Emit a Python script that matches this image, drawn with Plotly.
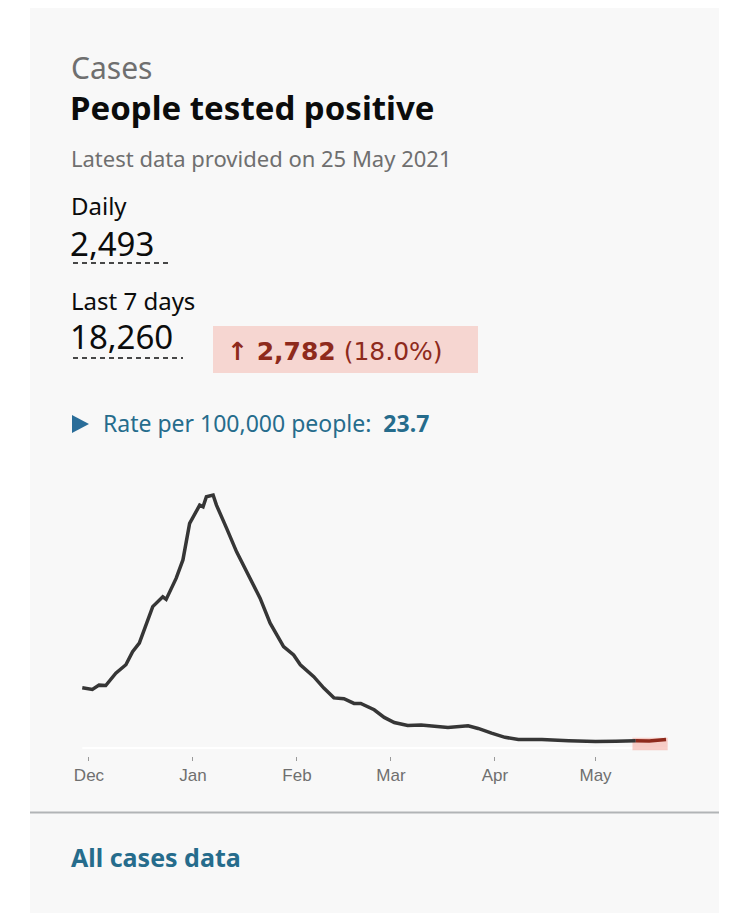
import plotly.graph_objects as go

W, H = 750, 921
OFF = 8  # page body margin

# 7-day average cases by specimen date
dates = [
    "2020-11-29", "2020-12-02", "2020-12-04", "2020-12-06", "2020-12-09", "2020-12-12",
    "2020-12-14", "2020-12-16", "2020-12-20", "2020-12-23", "2020-12-24", "2020-12-27",
    "2020-12-29", "2020-12-31", "2021-01-03", "2021-01-04", "2021-01-05", "2021-01-07",
    "2021-01-08", "2021-01-10", "2021-01-11", "2021-01-14", "2021-01-16", "2021-01-19",
    "2021-01-21", "2021-01-24", "2021-01-28", "2021-01-31", "2021-02-02", "2021-02-06",
    "2021-02-09", "2021-02-12", "2021-02-15", "2021-02-18", "2021-02-20", "2021-02-24",
    "2021-02-27", "2021-03-02", "2021-03-06", "2021-03-10", "2021-03-16", "2021-03-18",
    "2021-03-24", "2021-03-27", "2021-03-31", "2021-04-04", "2021-04-08", "2021-04-15",
    "2021-04-23", "2021-05-01", "2021-05-07", "2021-05-13",
]
cases = [
    14200, 13800, 14800, 14700, 17600, 19600,
    22700, 24700, 33300, 35600, 35000, 40000,
    44300, 52900, 57200, 56800, 59200, 59600,
    57200, 53300, 51800, 46200, 43100, 38000,
    35300, 29400, 23900, 21900, 19600, 16800,
    14100, 11800, 11600, 10500, 10500, 9000,
    7200, 6000, 5300, 5400, 5000, 4800,
    5200, 4600, 3500, 2500, 2000, 2000,
    1700, 1500, 1600, 1700,
]
recent_dates = ["2021-05-13", "2021-05-17", "2021-05-22"]
recent_cases = [1700, 1650, 2000]
highlight_start, highlight_end = "2021-05-12", "2021-05-22 12:00"
highlight_top = 2400

tick_dates = ["2020-12-01", "2021-01-01", "2021-02-01", "2021-03-01", "2021-04-01", "2021-05-01"]
tick_labels = ["Dec", "Jan", "Feb", "Mar", "Apr", "May"]


def px(x):
    return (x - OFF) / W


def py(y):
    return (H - (y - OFF)) / H


UI = "Noto Sans, Lato, sans-serif"
ARIAL = "Liberation Sans, Arial, sans-serif"
WIDE = "DejaVu Sans, Verdana, sans-serif"
GREY = "#6f6f6f"
BLUE = "#266c8c"
RED = "#8e2a1c"

fig = go.Figure()
fig.add_trace(go.Scatter(
    x=dates, y=cases, mode="lines",
    line=dict(color="#363636", width=3.5), hoverinfo="skip",
))
fig.add_trace(go.Scatter(
    x=recent_dates, y=recent_cases, mode="lines",
    line=dict(color=RED, width=3.5), hoverinfo="skip",
))

shapes = [
    # card
    dict(type="rect", xref="paper", yref="paper", x0=px(30), x1=px(719), y0=py(7), y1=py(913),
         fillcolor="#f8f8f8", line=dict(width=0), layer="below"),
    dict(type="line", xref="paper", yref="paper", x0=px(30), x1=px(719), y0=py(812.5), y1=py(812.5),
         line=dict(color="#b1b4b6", width=2)),
    # dotted underlines
    dict(type="line", xref="paper", yref="paper", x0=px(73), x1=px(170), y0=py(263), y1=py(263),
         line=dict(color="#0b0c0c", width=1.6, dash="5px,4px")),
    dict(type="line", xref="paper", yref="paper", x0=px(73), x1=px(183), y0=py(358), y1=py(358),
         line=dict(color="#0b0c0c", width=1.6, dash="5px,4px")),
    # change badge
    dict(type="rect", xref="paper", yref="paper", x0=px(213), x1=px(478), y0=py(326), y1=py(373),
         fillcolor="#f6d6d1", line=dict(width=0)),
    # triangle
    dict(type="path", xref="paper", yref="paper",
         path=f"M {px(72)} {py(415)} L {px(89)} {py(424)} L {px(72)} {py(433)} Z",
         fillcolor="#2a6d99", line=dict(width=0)),
    # baseline + recent highlight
    dict(type="line", xref="x", yref="y", x0=dates[0], x1=highlight_end, y0=0, y1=0,
         line=dict(color="#ffffff", width=2), layer="below"),
    dict(type="rect", xref="x", yref="y", x0=highlight_start, x1=highlight_end, y0=-600, y1=highlight_top,
         fillcolor="rgba(245,190,182,0.75)", line=dict(width=0), layer="below"),
]


def note(x, y, text, size, color, family=UI):
    return dict(xref="paper", yref="paper", x=px(x), y=py(y), text=text, showarrow=False,
                xanchor="left", yanchor="middle", borderpad=0,
                font=dict(size=size, color=color, family=family))


annotations = [
    note(70, 67, "Cases", 30, GREY),
    note(69, 107, "<b>People tested positive</b>", 33, "#0b0c0c"),
    note(70, 158, "Latest data provided on 25 May 2021", 22, GREY),
    note(70, 206, "Daily", 24, "#0b0c0c"),
    note(69, 243, "2,493", 33, "#0b0c0c"),
    note(70, 300, "Last 7 days", 24, "#0b0c0c"),
    note(69, 336, "18,260", 33, "#0b0c0c"),
    note(226, 351, "<b>\u2191 2,782</b> (18.0%)", 25, RED, WIDE),
    note(102, 423, "Rate per 100,000 people:  <b>23.7</b>", 23, BLUE),
    note(70, 857, "<b>All cases data</b>", 25, BLUE),
]

fig.update_layout(
    width=W, height=H,
    margin=dict(l=0, r=0, t=0, b=0),
    paper_bgcolor="#ffffff", plot_bgcolor="rgba(0,0,0,0)",
    showlegend=False,
    shapes=shapes, annotations=annotations,
    xaxis=dict(
        type="date", domain=[px(65.5), px(689.5)], range=["2020-11-24", "2021-05-29"],
        anchor="free", position=py(756),
        tickvals=tick_dates, ticktext=tick_labels,
        ticks="outside", ticklen=4, tickcolor="#9a9a9a", tickwidth=1,
        tickfont=dict(size=17, color=GREY, family=ARIAL),
        showgrid=False, zeroline=False, showline=False, fixedrange=True,
    ),
    yaxis=dict(
        domain=[py(750.5), py(484.8)], range=[-600, 62000],
        visible=False, fixedrange=True,
    ),
)

fig.write_html("out.html")
